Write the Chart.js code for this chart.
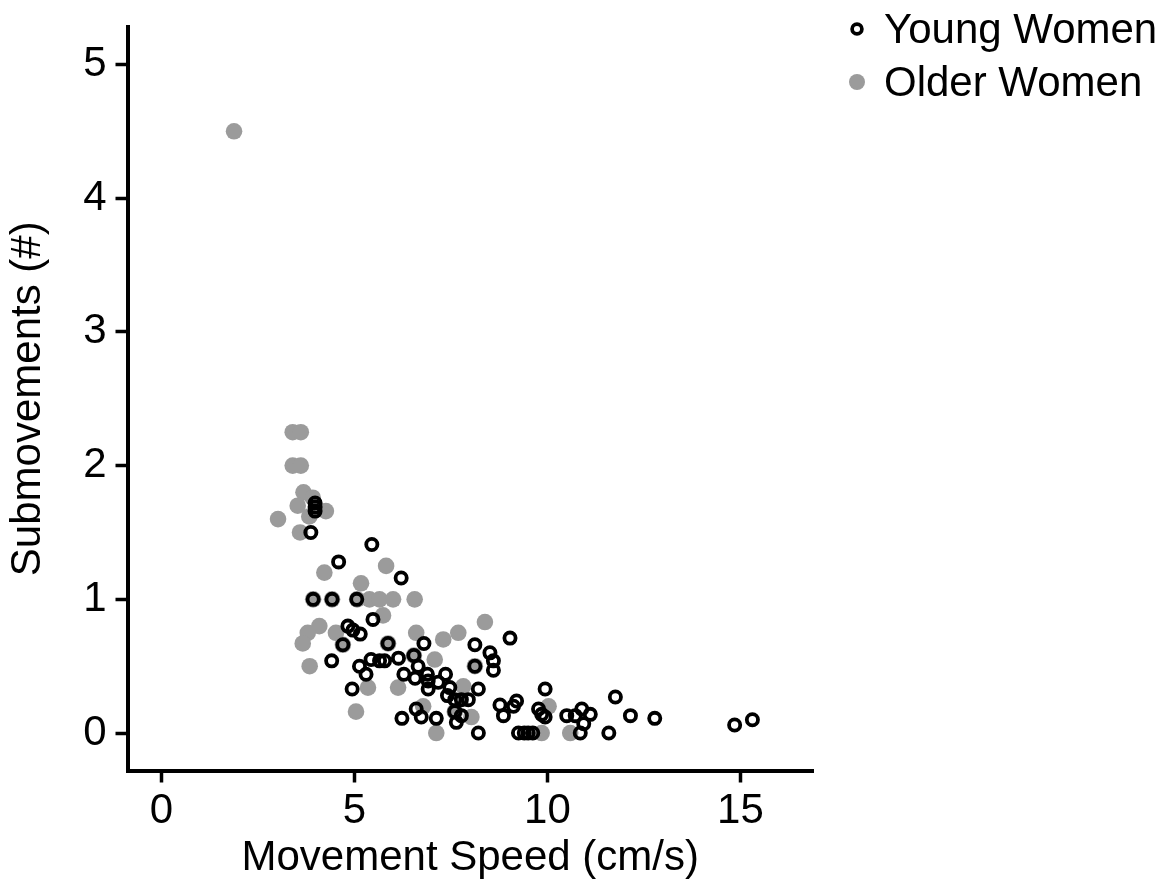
<!DOCTYPE html>
<html>
<head>
<meta charset="utf-8">
<script src="https://cdn.jsdelivr.net/npm/chart.js@4/dist/chart.umd.min.js"></script>
<style>
    body { margin: 0; background: #fff; }
    #wrap { width: 1171px; height: 884px; position: relative; }
</style>
</head>
<body>
<div id="wrap"><canvas id="scatter"></canvas></div>
<script>
// Young Women: movement speed (cm/s) and submovements (#)
let youngSpeed = [3.98, 3.98, 3.98, 3.87, 5.45, 4.59, 6.21, 3.93, 4.42, 5.06,
    5.48, 4.83, 4.96, 5.15, 4.70, 4.41, 5.87, 6.80, 8.12, 5.43,
    5.65, 5.78, 6.14, 5.13, 5.30, 6.54, 6.65, 6.28, 6.57, 6.89,
    6.91, 7.36, 7.17, 6.91, 7.47, 8.12, 8.21, 4.94, 7.41, 7.60,
    7.77, 7.95, 6.60, 6.23, 6.73, 7.12, 7.60, 7.77, 7.64, 8.21,
    9.03, 8.51, 8.60, 8.60, 9.94, 8.77, 9.20, 9.12, 8.86, 9.77,
    9.85, 9.94, 11.76, 10.50, 10.72, 10.89, 11.11, 10.94, 12.15, 9.25,
    9.40, 9.50, 9.62, 10.85, 11.59, 12.78, 14.85, 15.31];
let youngSubmov = [1.72, 1.69, 1.66, 1.50, 1.41, 1.28, 1.16, 1.00, 1.00, 1.00,
    0.85, 0.80, 0.77, 0.74, 0.66, 0.54, 0.67, 0.67, 0.66, 0.55,
    0.54, 0.54, 0.56, 0.50, 0.44, 0.58, 0.50, 0.44, 0.41, 0.44,
    0.39, 0.44, 0.38, 0.33, 0.34, 0.50, 0.33, 0.33, 0.28, 0.25,
    0.25, 0.25, 0.18, 0.11, 0.12, 0.11, 0.16, 0.13, 0.08, 0.00,
    0.71, 0.60, 0.54, 0.47, 0.33, 0.21, 0.24, 0.20, 0.13, 0.18,
    0.14, 0.12, 0.27, 0.13, 0.13, 0.18, 0.14, 0.07, 0.13, 0.00,
    0.00, 0.00, 0.00, 0.00, 0.00, 0.11, 0.06, 0.10];

// Older Women
let olderSpeed = [1.88, 3.40, 3.61, 3.40, 3.61, 3.68, 3.53, 3.92, 4.26, 3.83,
    3.02, 3.59, 5.82, 4.22, 5.17, 3.93, 4.42, 5.07, 5.39, 5.65,
    6.00, 6.56, 5.74, 4.09, 3.79, 3.66, 3.84, 4.52, 4.70, 6.60,
    7.30, 7.69, 5.87, 6.54, 7.08, 8.12, 7.82, 5.35, 6.13, 5.04,
    7.60, 7.12, 8.03, 8.38, 9.85, 10.59, 10.03, 6.78];
let olderSubmov = [4.50, 2.25, 2.25, 2.00, 2.00, 1.80, 1.70, 1.76, 1.66, 1.62,
    1.60, 1.50, 1.25, 1.20, 1.12, 1.00, 1.00, 1.00, 1.00, 1.00,
    1.00, 1.00, 0.88, 0.80, 0.75, 0.67, 0.50, 0.75, 0.66, 0.75,
    0.70, 0.75, 0.67, 0.58, 0.55, 0.50, 0.35, 0.34, 0.34, 0.16,
    0.16, 0.00, 0.12, 0.83, 0.00, 0.00, 0.20, 0.20];

let xTicks = [0, 5, 10, 15];
let yTicks = [0, 1, 2, 3, 4, 5];

let fontFamily = "'Liberation Sans', Arial, sans-serif";

function toPoints(xs, ys) {
    let pts = [];
    for (i = 0; i < xs.length; i++) {
        pts.push({ x: xs[i], y: ys[i] });
    }
    return pts;
}

// legend drawn at the top right, outside the plot
let sideLegend = {
    id: 'sideLegend',
    afterDraw: function (chart) {
        let ctx = chart.ctx;
        let rows = [
            { ds: chart.data.datasets[0], y: 29, r: 4.9, lw: 3.7 },
            { ds: chart.data.datasets[1], y: 82, r: 8, lw: 0 }
        ];
        ctx.save();
        ctx.font = '42px ' + fontFamily;
        ctx.textBaseline = 'middle';
        ctx.fillStyle = '#000';
        rows.forEach(function (row) {
            ctx.beginPath();
            ctx.arc(857, row.y, row.r, 0, Math.PI * 2);
            if (row.lw > 0) {
                ctx.lineWidth = row.lw;
                ctx.strokeStyle = row.ds.pointBorderColor;
                ctx.stroke();
            } else {
                ctx.fillStyle = row.ds.pointBackgroundColor;
                ctx.fill();
            }
            ctx.fillStyle = '#000';
            ctx.fillText(row.ds.label, 884, row.y + 2);
        });
        ctx.restore();
    }
};

let myChart = document.getElementById('scatter').getContext('2d');
let scatter = new Chart(myChart, {
    type: 'scatter',
    data: {
        datasets: [{
            label: 'Young Women',
            data: toPoints(youngSpeed, youngSubmov),
            pointRadius: 5.6,
            pointBorderWidth: 3.8,
            pointBorderColor: '#000',
            pointBackgroundColor: 'rgba(0,0,0,0)'
        }, {
            label: 'Older Women',
            data: toPoints(olderSpeed, olderSubmov),
            pointRadius: 8.3,
            pointBorderWidth: 0,
            pointBorderColor: 'rgba(0,0,0,0)',
            pointBackgroundColor: '#9b9b9b'
        }]
    },
    options: {
        responsive: true,
        maintainAspectRatio: false,
        animation: false,
        layout: {
            padding: { top: 27, right: 358, left: 0, bottom: 0 }
        },
        plugins: {
            legend: { display: false },
            tooltip: { enabled: false }
        },
        scales: {
            x: {
                type: 'linear',
                min: -0.88,
                max: 16.88,
                afterFit: function (scale) {
                    scale.height = 113.5;
                    scale.paddingLeft = 0;
                    scale.paddingRight = 0;
                },
                afterBuildTicks: function (scale) {
                    scale.ticks = xTicks.map(function (v) { return { value: v }; });
                },
                border: { display: true, color: '#000', width: 4 },
                grid: {
                    drawOnChartArea: false,
                    drawTicks: true,
                    tickLength: 12,
                    tickWidth: 3.5,
                    tickColor: '#000'
                },
                ticks: {
                    color: '#000',
                    padding: 4,
                    font: { family: fontFamily, size: 42 }
                },
                title: {
                    display: true,
                    text: 'Movement Speed (cm/s)',
                    color: '#000',
                    padding: { top: 0, bottom: 0 },
                    font: { family: fontFamily, size: 42 }
                }
            },
            y: {
                type: 'linear',
                min: -0.28,
                max: 5.28,
                afterFit: function (scale) {
                    scale.width = 127.5;
                    scale.paddingTop = 0;
                    scale.paddingBottom = 0;
                },
                afterBuildTicks: function (scale) {
                    scale.ticks = yTicks.map(function (v) { return { value: v }; });
                },
                border: { display: true, color: '#000', width: 4 },
                grid: {
                    drawOnChartArea: false,
                    drawTicks: true,
                    tickLength: 12,
                    tickWidth: 3.5,
                    tickColor: '#000'
                },
                ticks: {
                    color: '#000',
                    padding: 9,
                    font: { family: fontFamily, size: 42 }
                },
                title: {
                    display: true,
                    text: 'Submovements (#)',
                    color: '#000',
                    padding: { top: 3, bottom: 0 },
                    font: { family: fontFamily, size: 42 }
                }
            }
        }
    },
    plugins: [sideLegend]
});
</script>
</body>
</html>
